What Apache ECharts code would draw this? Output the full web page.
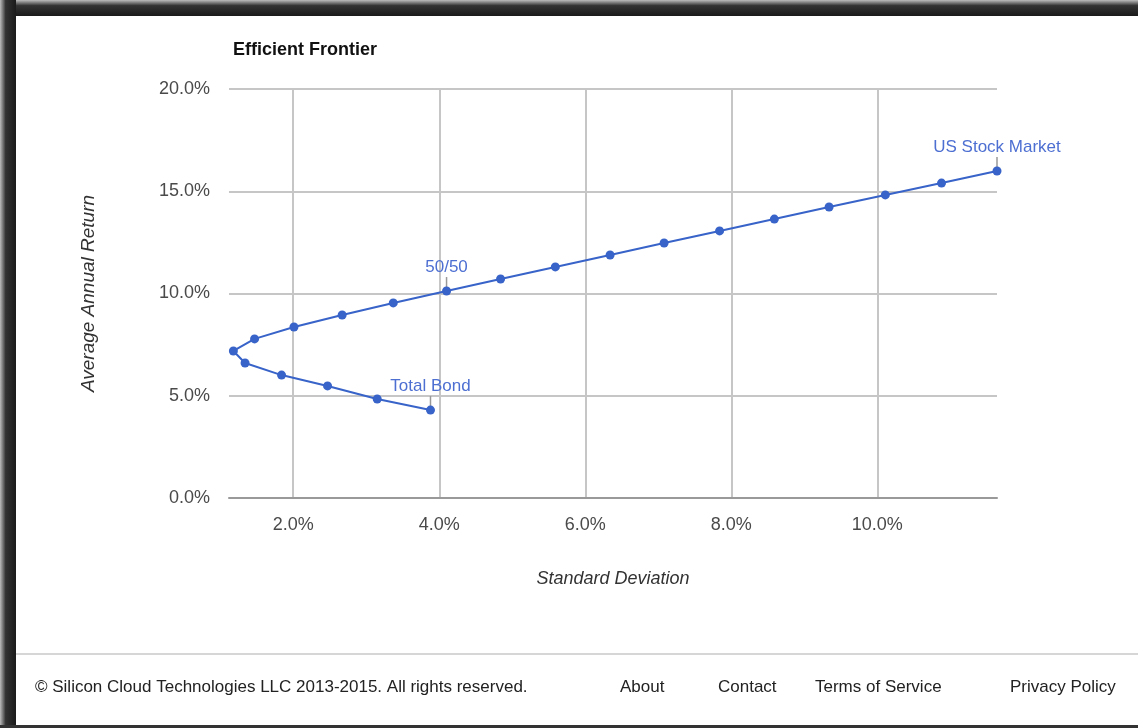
<!DOCTYPE html>
<html>
<head>
<meta charset="utf-8">
<script src="https://cdn.jsdelivr.net/npm/echarts@6/dist/echarts.min.js"></script>
<style>
  html, body { margin: 0; padding: 0; background: #fff; }
  #main { width: 1138px; height: 728px; }
</style>
</head>
<body>
<div id="main"></div>
<script>
// standard deviation (%) and average annual return (%), from Total Bond to US Stock Market
var sdev = [3.88, 3.15, 2.47, 1.84, 1.34, 1.18, 1.47, 2.01, 2.67, 3.37, 4.10,
            4.84, 5.59, 6.34, 7.08, 7.84, 8.59, 9.34, 10.11, 10.88, 11.64];
var ret = [4.30, 4.84, 5.48, 6.01, 6.60, 7.19, 7.78, 8.36, 8.95, 9.54, 10.12,
           10.71, 11.30, 11.88, 12.47, 13.06, 13.64, 14.23, 14.82, 15.40, 15.99];
var notes = ['Total Bond', '', '', '', '', '', '', '', '', '', '50/50',
             '', '', '', '', '', '', '', '', '', 'US Stock Market'];
var xTicks = [2, 4, 6, 8, 10];
var footerLinks = ['About', 'Contact', 'Terms of Service', 'Privacy Policy'];

var blue = '#3863c8';
var font = '"Liberation Sans", Arial, sans-serif';

var points = sdev.map(function (x, i) {
  var p = { value: [x, ret[i]] };
  if (notes[i]) {
    p.label = { show: true, formatter: notes[i] };
  }
  return p;
});
var stems = [];
notes.forEach(function (n, i) { if (n) stems.push([sdev[i], ret[i]]); });

var myChart = echarts.init(document.getElementById('main'), null, { renderer: 'canvas' });
myChart.setOption({
  animation: false,
  textStyle: { fontFamily: font },
  title: {
    text: 'Efficient Frontier',
    left: 228, top: 36,
    textStyle: { fontSize: 18, fontWeight: 'bold', color: '#111', fontFamily: font }
  },
  grid: { left: 229, right: 141, top: 89, bottom: 230 },
  xAxis: {
    type: 'value',
    min: 1.12, max: 11.64,
    name: 'Standard Deviation',
    nameLocation: 'middle',
    nameGap: 72,
    nameTextStyle: { fontSize: 18, fontStyle: 'italic', color: '#333', fontFamily: font },
    axisLine: { show: true, lineStyle: { color: '#999', width: 2 } },
    axisTick: { show: false, customValues: xTicks },
    axisLabel: {
      customValues: xTicks,
      margin: 18,
      fontSize: 18, color: '#4a4a4a', fontFamily: font,
      formatter: function (v) { return v.toFixed(1) + '%'; }
    },
    splitLine: { show: true, lineStyle: { color: '#c6c6c6', width: 2 } }
  },
  yAxis: {
    type: 'value',
    min: 0, max: 20, interval: 5,
    name: 'Average Annual Return',
    nameLocation: 'middle',
    nameGap: 131,
    nameTextStyle: { fontSize: 19, fontStyle: 'italic', color: '#333', fontFamily: font },
    axisLine: { show: false },
    axisTick: { show: false },
    axisLabel: {
      margin: 19,
      fontSize: 18, color: '#4a4a4a', fontFamily: font,
      formatter: function (v) { return v.toFixed(1) + '%'; }
    },
    splitLine: { show: true, lineStyle: { color: '#c6c6c6', width: 2 } }
  },
  series: [
    {
      type: 'custom',
      z: 1,
      data: stems,
      renderItem: function (params, api) {
        var p = api.coord([api.value(0), api.value(1)]);
        return {
          type: 'line',
          shape: { x1: p[0], y1: p[1], x2: p[0], y2: p[1] - 14 },
          style: { stroke: '#999', lineWidth: 1.5 }
        };
      }
    },
    {
      type: 'line',
      z: 2,
      data: points,
      symbol: 'circle',
      symbolSize: 9,
      showAllSymbol: true,
      itemStyle: { color: blue },
      lineStyle: { color: blue, width: 2 },
      label: {
        show: false,
        position: 'top',
        distance: 11,
        fontSize: 17,
        color: '#4d6fd2',
        fontFamily: font
      }
    }
  ],
  graphic: [
    // screenshot frame
    { type: 'rect', shape: { x: 0, y: 0, width: 1138, height: 16 },
      style: { fill: new echarts.graphic.LinearGradient(0, 0, 0, 1, [
        { offset: 0, color: '#bdbdbd' }, { offset: 0.35, color: '#333' }, { offset: 1, color: '#1a1a1a' }]) } },
    { type: 'rect', shape: { x: 0, y: 0, width: 16, height: 728 },
      style: { fill: new echarts.graphic.LinearGradient(0, 0, 1, 0, [
        { offset: 0, color: '#bdbdbd' }, { offset: 0.35, color: '#333' }, { offset: 1, color: '#1a1a1a' }]) } },
    { type: 'rect', shape: { x: 0, y: 725, width: 1138, height: 3 }, style: { fill: '#333' } },
    // footer
    { type: 'rect', shape: { x: 16, y: 653, width: 1122, height: 2 }, style: { fill: '#d6d6d6' } },
    { type: 'text', left: 35, top: 679,
      style: { text: '\u00a9 Silicon Cloud Technologies LLC 2013-2015. All rights reserved.', fontSize: 17, fill: '#222', fontFamily: font } },
    { type: 'text', left: 620, top: 679, style: { text: footerLinks[0], fontSize: 17, fill: '#222', fontFamily: font } },
    { type: 'text', left: 718, top: 679, style: { text: footerLinks[1], fontSize: 17, fill: '#222', fontFamily: font } },
    { type: 'text', left: 815, top: 679, style: { text: footerLinks[2], fontSize: 17, fill: '#222', fontFamily: font } },
    { type: 'text', left: 1010, top: 679, style: { text: footerLinks[3], fontSize: 17, fill: '#222', fontFamily: font } }
  ]
});
</script>
</body>
</html>
